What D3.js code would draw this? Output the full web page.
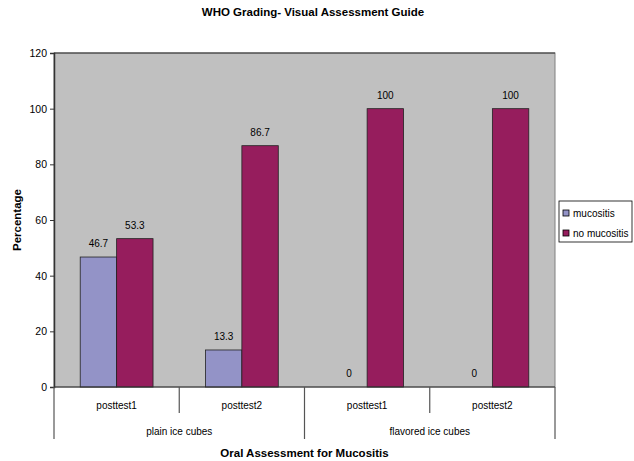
<!DOCTYPE html>
<html><head><meta charset="utf-8">
<script src="https://cdn.jsdelivr.net/npm/d3@7"></script>
<style>body{margin:0;background:#fff}svg{display:block;font-family:"Liberation Sans",Arial,sans-serif}</style>
</head><body>
<svg id="c" width="634" height="461"></svg>
<script>
const groups = ["plain ice cubes", "flavored ice cubes"];
const tests = ["posttest1", "posttest2"];
const categories = ["plain ice cubes|posttest1", "plain ice cubes|posttest2", "flavored ice cubes|posttest1", "flavored ice cubes|posttest2"];
const seriesNames = ["mucositis", "no mucositis"];
const mucositis = [46.7, 13.3, 0, 0];
const noMucositis = [53.3, 86.7, 100, 100];
const yTicks = [0, 20, 40, 60, 80, 100, 120];
const colors = ["#9393C7", "#961D5D"];

const svg = d3.select("#c");
const L = 54, R = 555, T = 53, B = 387;
const FS = 10;
const x = d3.scaleBand().domain(categories).range([L, R]).paddingInner(0).paddingOuter(0);
const xs = d3.scaleBand().domain(seriesNames).range([0, x.bandwidth()]).paddingInner(0).paddingOuter(0.72);
const y = d3.scaleLinear().domain([0, 120]).range([B, T]);

svg.append("rect").attr("x", L).attr("y", T).attr("width", R - L).attr("height", B - T)
  .attr("fill", "#C0C0C0").attr("stroke", "#808080").attr("stroke-width", 1);
svg.append("line").attr("x1", L).attr("x2", R).attr("y1", T).attr("y2", T).attr("stroke", "#333");

const series = [mucositis, noMucositis];
series.forEach((vals, si) => {
  const g = svg.append("g");
  categories.forEach((c, i) => {
    const v = vals[i];
    const bx = x(c) + xs(seriesNames[si]);
    if (v > 0) {
      g.append("rect").attr("x", bx).attr("y", y(v)).attr("width", xs.bandwidth())
        .attr("height", y(0) - y(v)).attr("fill", colors[si]).attr("stroke", "#222").attr("stroke-width", 0.8);
    }
    g.append("text").attr("x", bx + xs.bandwidth() / 2).attr("y", y(v) - 10)
      .attr("text-anchor", "middle").attr("font-size", FS).attr("fill", "#000").text(String(v));
  });
});

// y axis
const ya = svg.append("g").attr("transform", `translate(${L},0)`)
  .call(d3.axisLeft(y).tickValues(yTicks).tickSize(4).tickPadding(3));
ya.select(".domain").attr("stroke", "#333").attr("stroke-width", 1.5);
ya.selectAll("text").attr("font-size", FS + 0.5).attr("fill", "#000").attr("font-family", "Liberation Sans, Arial, sans-serif");
ya.selectAll(".tick line").attr("stroke", "#333");

// x axis line
svg.append("line").attr("x1", L).attr("x2", R).attr("y1", B).attr("y2", B).attr("stroke", "#333").attr("stroke-width", 1.2);

// category ticks and labels
categories.forEach((c, i) => {
  const parts = c.split("|");
  svg.append("text").attr("x", x(c) + x.bandwidth() / 2).attr("y", 409)
    .attr("text-anchor", "middle").attr("font-size", FS).text(parts[1]);
});
const bounds = [0, 1, 2, 3, 4];
bounds.forEach(b => {
  const xp = b < 4 ? x(categories[b]) : R;
  const outer = (b % 2 === 0);
  svg.append("line").attr("x1", xp).attr("x2", xp).attr("y1", B).attr("y2", outer ? 439 : 413)
    .attr("stroke", "#555").attr("stroke-width", 1.2);
});
groups.forEach((gname, gi) => {
  const x0 = x(categories[gi * 2]), x1 = x(categories[gi * 2 + 1]) + x.bandwidth();
  svg.append("text").attr("x", (x0 + x1) / 2).attr("y", 435)
    .attr("text-anchor", "middle").attr("font-size", FS).text(gname);
});

// titles
svg.append("text").attr("x", 313).attr("y", 16).attr("text-anchor", "middle")
  .attr("font-size", 11.5).attr("font-weight", "bold").text("WHO Grading- Visual Assessment Guide");
svg.append("text").attr("x", (L + R) / 2).attr("y", 457).attr("text-anchor", "middle")
  .attr("font-size", 11.5).attr("font-weight", "bold").text("Oral Assessment for Mucositis");
svg.append("text").attr("transform", `translate(21,${(T + B) / 2}) rotate(-90)`).attr("text-anchor", "middle")
  .attr("font-size", 11.5).attr("font-weight", "bold").text("Percentage");

// legend
const lg = svg.append("g");
lg.append("rect").attr("x", 559).attr("y", 201).attr("width", 73).attr("height", 41)
  .attr("fill", "#fff").attr("stroke", "#000").attr("stroke-width", 0.8);
seriesNames.forEach((s, i) => {
  const ly = 213 + i * 20;
  lg.append("rect").attr("x", 563).attr("y", ly - 3).attr("width", 6).attr("height", 6)
    .attr("fill", colors[i]).attr("stroke", "#000").attr("stroke-width", 0.8);
  lg.append("text").attr("x", 573).attr("y", ly + 4).attr("font-size", FS).text(s);
});
</script>
</body></html>
